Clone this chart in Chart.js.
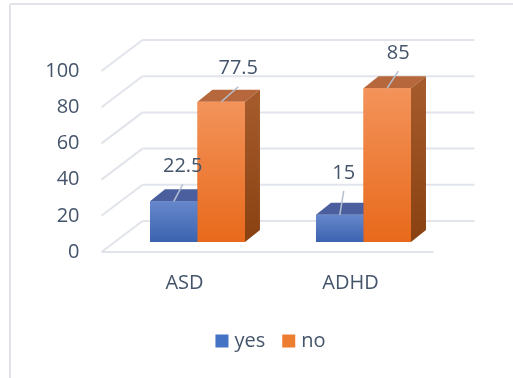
<!DOCTYPE html>
<html>
<head>
<meta charset="utf-8">
<script src="https://cdn.jsdelivr.net/npm/chart.js@4.4.1/dist/chart.umd.min.js"></script>
<style>
  html, body { margin: 0; padding: 0; background: #fff; }
  canvas { display: block; }
</style>
</head>
<body>
<canvas id="graficoVotos" width="513" height="378"></canvas>
<script>
// Datos del grafico
const categorias = ["ASD", "ADHD"];
const nombresSeries = ["yes", "no"];
const valoresYes = [22.5, 15];
const valoresNo = [77.5, 85];
const ticksY = [0, 20, 40, 60, 80, 100];

// Desplazamientos para simular la profundidad 3D
const FRENTE = { dx: -13, dy: 10 };   // borde delantero del suelo
const FONDO = { dx: 28, dy: -21 };    // pared del fondo
const CARA = { dx: 15, dy: -12 };     // profundidad de cada barra

const COLOR_TEXTO = "#44546a";
const COLOR_REJILLA = "#e1e4ea";
const FUENTE = '20px "Open Sans", "Noto Sans", sans-serif';

// Posicion de cada etiqueta de valor respecto al centro de la tapa [serie][categoria]
const posEtiquetas = [
    [{ dx: 9, dy: -35 }, { dx: 4, dy: -42 }],
    [{ dx: 17, dy: -33 }, { dx: 11, dy: -35 }]
];

// Colores de cada serie: frente (arriba/abajo), tapa y lateral
const estilos = [
    { arriba: "#6787cb", abajo: "#3b63b0", tapa: "#4b5f9e", lado: ["#3d5796", "#2f4a86"], leyenda: "#4472c4" },
    { arriba: "#f3935a", abajo: "#e8691b", tapa: "#b6673b", lado: ["#a45a2a", "#8a4112"], leyenda: "#ed7d31" }
];

function degradado(contexto, estilo) {
    const chart = contexto.chart;
    if (!chart.chartArea || contexto.raw === undefined) return estilo.abajo;
    const y = chart.scales.y;
    const g = chart.ctx.createLinearGradient(0, y.getPixelForValue(contexto.raw), 0, y.getPixelForValue(0));
    g.addColorStop(0, estilo.arriba);
    g.addColorStop(1, estilo.abajo);
    return g;
}

function linea(ctx, x1, y1, x2, y2) {
    ctx.beginPath();
    ctx.moveTo(x1, y1);
    ctx.lineTo(x2, y2);
    ctx.stroke();
}

function poligono(ctx, puntos, relleno) {
    ctx.beginPath();
    ctx.moveTo(puntos[0][0], puntos[0][1]);
    for (let i = 1; i < puntos.length; i++) ctx.lineTo(puntos[i][0], puntos[i][1]);
    ctx.closePath();
    ctx.fillStyle = relleno;
    ctx.fill();
}

// Paredes, suelo, ejes, caras 3D, etiquetas y leyenda
const plugin3D = {
    id: "barras3d",
    beforeDatasetsDraw(chart) {
        const ctx = chart.ctx;
        const { left, right } = chart.chartArea;
        const escalaY = chart.scales.y;
        const base = escalaY.getPixelForValue(0);

        ctx.save();
        // marco exterior
        ctx.strokeStyle = "#e2e3e8";
        ctx.lineWidth = 2;
        linea(ctx, 10, 4, chart.width, 4);
        linea(ctx, 10, 4, 10, chart.height);

        ctx.strokeStyle = COLOR_REJILLA;
        ctx.lineWidth = 2;
        ticksY.forEach(v => {
            const y = escalaY.getPixelForValue(v);
            linea(ctx, left + FONDO.dx, y + FONDO.dy, right + FONDO.dx, y + FONDO.dy);
            linea(ctx, left + FRENTE.dx, y + FRENTE.dy, left + FONDO.dx, y + FONDO.dy);
        });
        linea(ctx, left + FRENTE.dx, base + FRENTE.dy, right + FRENTE.dx, base + FRENTE.dy);

        // etiquetas del eje Y
        ctx.font = FUENTE;
        ctx.fillStyle = COLOR_TEXTO;
        ctx.textAlign = "right";
        ctx.textBaseline = "middle";
        ticksY.forEach(v => {
            ctx.fillText(String(v), left + FRENTE.dx - 22, escalaY.getPixelForValue(v) + FRENTE.dy);
        });

        // etiquetas del eje X
        ctx.textAlign = "center";
        const escalaX = chart.scales.x;
        categorias.forEach((c, i) => {
            ctx.fillText(c, escalaX.getPixelForValue(i) + FRENTE.dx, base + FRENTE.dy + 31);
        });
        ctx.restore();
    },
    afterDatasetsDraw(chart) {
        const ctx = chart.ctx;
        ctx.save();
        categorias.forEach((c, i) => {
            chart.data.datasets.forEach((ds, d) => {
                const barra = chart.getDatasetMeta(d).data[i];
                const estilo = estilos[d];
                const x0 = barra.x - barra.width / 2;
                const x1 = barra.x + barra.width / 2;
                const arriba = barra.y;
                const abajo = barra.base;
                // tapa
                poligono(ctx, [[x0, arriba], [x0 + CARA.dx, arriba + CARA.dy], [x1 + CARA.dx, arriba + CARA.dy], [x1, arriba]], estilo.tapa);
                // lateral
                const g = ctx.createLinearGradient(0, arriba, 0, abajo);
                g.addColorStop(0, estilo.lado[0]);
                g.addColorStop(1, estilo.lado[1]);
                poligono(ctx, [[x1, arriba], [x1 + CARA.dx, arriba + CARA.dy], [x1 + CARA.dx, abajo + CARA.dy], [x1, abajo]], g);
                // frente otra vez encima para tapar la barra vecina
                barra.draw(ctx);
            });
        });

        // valores con su linea guia
        ctx.font = FUENTE;
        ctx.fillStyle = COLOR_TEXTO;
        ctx.textAlign = "center";
        ctx.textBaseline = "middle";
        ctx.strokeStyle = "#b4c0d2";
        ctx.lineWidth = 1.5;
        chart.data.datasets.forEach((ds, d) => {
            chart.getDatasetMeta(d).data.forEach((barra, i) => {
                const p = posEtiquetas[d][i];
                linea(ctx, barra.x, barra.y, barra.x + p.dx, barra.y + p.dy + 18);
                ctx.fillText(String(ds.data[i]), barra.x + p.dx, barra.y + p.dy);
            });
        });

        // leyenda
        const centro = chart.width / 2 + 14;
        const yLey = 341;
        const cuadro = 13;
        const anchos = nombresSeries.map(n => ctx.measureText(n).width);
        const total = anchos.reduce((a, w) => a + cuadro + 6 + w, 0) + 17 * (nombresSeries.length - 1);
        let x = centro - total / 2;
        ctx.textAlign = "left";
        nombresSeries.forEach((n, d) => {
            ctx.fillStyle = estilos[d].leyenda;
            ctx.fillRect(x, yLey - cuadro / 2, cuadro, cuadro);
            ctx.fillStyle = COLOR_TEXTO;
            ctx.fillText(n, x + cuadro + 6, yLey);
            x += cuadro + 6 + anchos[d] + 17;
        });
        ctx.restore();
    }
};

const grafico = document.getElementById("graficoVotos").getContext("2d");

new Chart(grafico, {
    type: "bar",
    data: {
        labels: categorias,
        datasets: [
            {
                label: nombresSeries[0],
                data: valoresYes,
                backgroundColor: c => degradado(c, estilos[0]),
                borderWidth: 0
            },
            {
                label: nombresSeries[1],
                data: valoresNo,
                backgroundColor: c => degradado(c, estilos[1]),
                borderWidth: 0
            }
        ]
    },
    options: {
        responsive: false,
        animation: false,
        layout: { padding: { left: 114.5, right: 66.5, top: 61, bottom: 136 } },
        datasets: { bar: { categoryPercentage: 0.572, barPercentage: 1 } },
        plugins: { legend: { display: false }, tooltip: { enabled: false } },
        scales: {
            x: { display: false },
            y: { display: false, min: 0, max: 100 }
        }
    },
    plugins: [plugin3D]
});
</script>
</body>
</html>
